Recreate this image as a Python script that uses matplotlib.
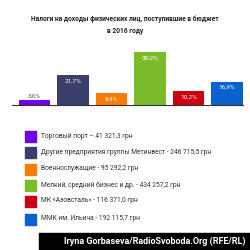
import matplotlib.pyplot as plt
from matplotlib.patches import Rectangle

plt.rcParams['font.family'] = ['Roboto', 'DejaVu Sans']

# --- data ---
shares = [3.6, 21.7, 8.4, 38.2, 10.2, 16.9]
share_labels = ['3,6%', '21,7%', '8,4%', '38,2%', '10,2%', '16,9%']
colors = ['#6f00f0', '#3b3f6b', '#ff7a00', '#7cbb2c', '#cc0010', '#0a62cf']
legend_labels = [
    'Торговый порт \u2013 41 321,3 грн',
    'Другие предприятия группы Метинвест - 246 715,5 грн',
    'Военнослужащие - 95 292,2 грн',
    'Мелкий, средний бизнес и др. - 434 257,2 грн',
    'МК «Азовсталь» - 116 371,0 грн',
    'ММК им. Ильича - 192 115,7 грн',
]
title = 'Налоги на доходы физических лиц, поступившие в бюджет\nв 2016 году'
credit = 'Iryna Gorbaseva/RadioSvoboda.Org (RFE/RL)'

W = H = 250
fig = plt.figure(figsize=(2.5, 2.5), dpi=100)
fig.patch.set_facecolor('white')

fig.text(0.5, 1 - 25 / H, title, ha='center', va='center', fontsize=4.8,
         fontweight='bold', color='#222222', linespacing=1.6)

# --- bars ---
ax = fig.add_axes([12 / W, 1 - 105 / H, 231 / W, 65 / H])
x = range(len(shares))
ax.bar(x, shares, width=0.83, color=colors)
ax.set_xlim(-0.584, 5.416)
ax.set_ylim(0, 46.9)
for i, (v, lab) in enumerate(zip(shares, share_labels)):
    if v < 5:
        ax.text(i, v + 1.2, lab, ha='center', va='bottom', fontsize=4.6, color='#555555')
    else:
        ax.text(i, v - 2.5, lab, ha='center', va='top', fontsize=4.6, color='white')
for s in ('top', 'right', 'left'):
    ax.spines[s].set_visible(False)
ax.spines['bottom'].set_color('#333333')
ax.spines['bottom'].set_linewidth(0.8)
ax.set_xticks([])
ax.set_yticks([])

# --- legend ---
row_y = [136, 152, 169, 185, 201, 219]
for yy, c, lab in zip(row_y, colors, legend_labels):
    fig.patches.append(Rectangle((25 / W, 1 - (yy + 5.5) / H), 11 / W, 11 / H,
                                 transform=fig.transFigure, color=c))
    fig.text(41 / W, 1 - yy / H, lab, ha='left', va='center', fontsize=4.75, color='#333333')

# --- credit ---
fig.patches.append(Rectangle((39 / W, 0), 211 / W, 17 / H,
                             transform=fig.transFigure, color='black'))
fig.text(246 / W, 8.5 / H, credit, ha='right', va='center', fontsize=6.5,
         fontweight='bold', color='white')

fig.savefig('out.png', dpi=100, facecolor='white')
